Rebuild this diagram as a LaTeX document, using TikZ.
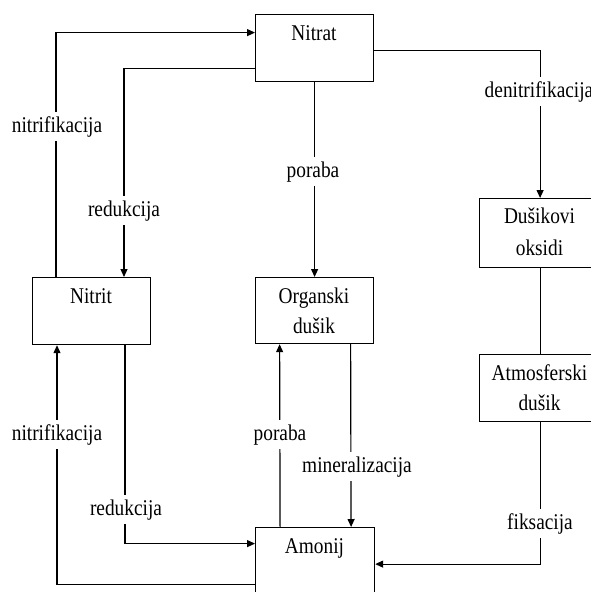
\documentclass[tikz,border=0pt]{standalone}
\usepackage{fontspec}
\setmainfont{Liberation Serif}[FakeStretch=0.86]
\usetikzlibrary{arrows.meta}
\begin{document}
\begin{tikzpicture}[x=1pt,y=-1pt,
  box/.style={draw, line width=1.2pt, inner sep=0pt, anchor=north west},
  ln/.style={line width=1.2pt},
  arr/.style={line width=1.2pt, -{Triangle[length=8pt,width=7pt]}},
  txt/.style={font=\fontsize{22.5}{27}\selectfont, anchor=base, inner sep=0pt},
  lbl/.style={txt, fill=white, inner sep=4pt}]
\path[use as bounding box, fill=white] (0,0) rectangle (591,592);
% boxes
\node[box, minimum width=118pt, minimum height=67pt] (nitrat) at (255,14) {};
\node[box, minimum width=118pt, minimum height=67pt] (nitrit) at (32,277) {};
\node[box, minimum width=118pt, minimum height=66pt] (organski) at (255,277) {};
\node[box, minimum width=121pt, minimum height=69pt] (dusiko) at (479,198) {};
\node[box, minimum width=121pt, minimum height=67pt] (atmos) at (479,354) {};
\node[box, minimum width=119pt, minimum height=73pt] (amonij) at (255,527) {};
% box texts
\node[txt] (tnitrat) at (314,40) {Nitrat};
\node[txt] (tnitrit) at (91,303) {Nitrit};
\node[txt] (torg1) at (314,303) {Organski};
\node[txt] (torg2) at (314,333) {dušik};
\node[txt] (tdus1) at (539.5,223) {Dušikovi};
\node[txt] (tdus2) at (539.5,255) {oksidi};
\node[txt] (tatm1) at (539.5,380) {Atmosferski};
\node[txt] (tatm2) at (539.5,410) {dušik};
\node[txt] (tamo) at (314.5,553) {Amonij};
% connectors
\draw[arr] ([xshift=24pt]nitrit.north west) |- ([yshift=15.5pt]nitrat.west);
\draw[arr] ([yshift=-20.5pt]nitrat.west) -| ([xshift=92pt]nitrit.north west);
\draw[arr] (nitrat.south) -- (organski.north);
\draw[arr] ([yshift=-2.5pt]nitrat.east) -| (dusiko.north);
\draw[ln] (dusiko.south) -- (atmos.north);
\draw[arr] (atmos.south) |- (amonij.east);
\draw[arr] ([xshift=36pt]organski.south) -- ([xshift=36pt]amonij.north);
\draw[arr] ([xshift=-35pt]amonij.north) -- ([xshift=-35pt]organski.south);
\draw[arr] ([xshift=93pt]nitrit.south west) |- ([yshift=20.5pt]amonij.west);
\draw[arr] ([yshift=-20.5pt]amonij.west) -| ([xshift=25pt]nitrit.south west);
% labels
\node[lbl] (l1) at (57,132) {nitrifikacija};
\node[lbl] (l2) at (124,216) {redukcija};
\node[lbl] (l3) at (313,177) {poraba};
\node[lbl] (l4) at (539,97) {denitrifikacija};
\node[lbl] (l5) at (57,440) {nitrifikacija};
\node[lbl] (l6) at (280,440) {poraba};
\node[lbl] (l7) at (126,515) {redukcija};
\node[lbl] (l8) at (357,472) {mineralizacija};
\node[lbl] (l9) at (540,529) {fiksacija};
\end{tikzpicture}
\end{document}
